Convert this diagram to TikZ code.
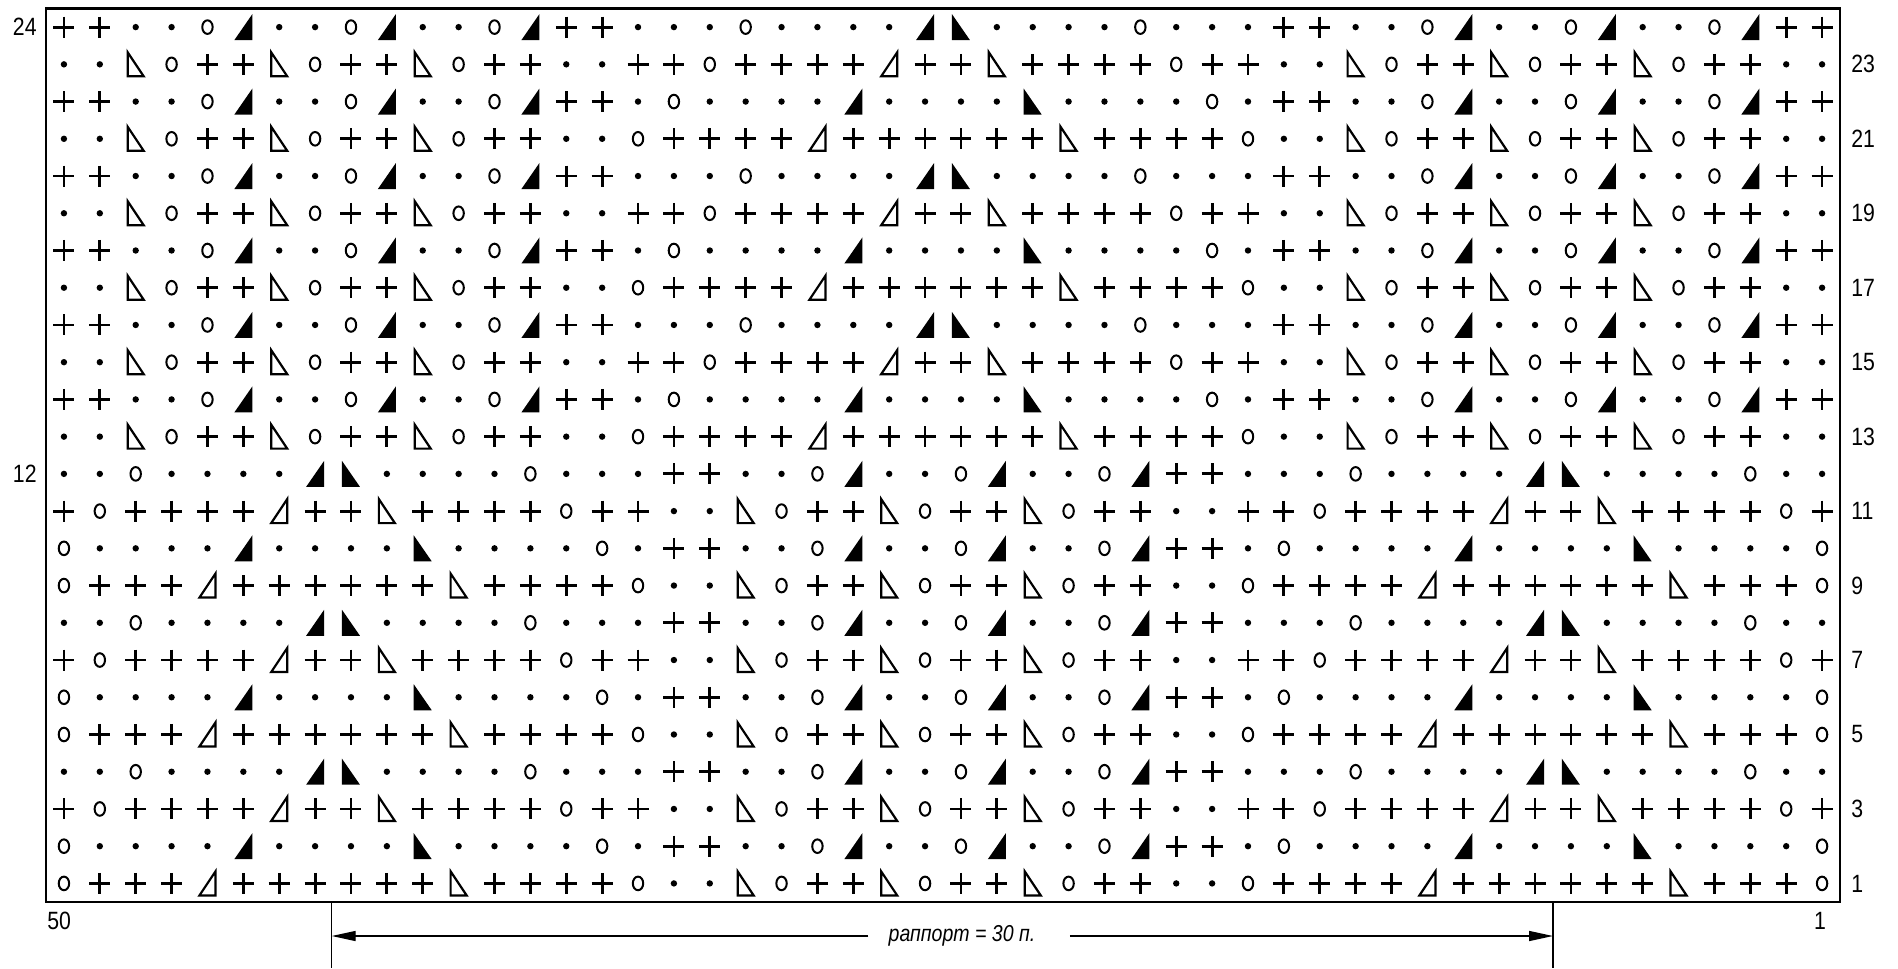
\documentclass[tikz,border=0pt]{standalone}
\usepackage{fontspec}
\setmainfont{Liberation Sans}[FakeStretch=0.85]
\usetikzlibrary{arrows.meta}
% symbol patterns, left (col 50) to right (col 1)
\expandafter\def\csname chartrowU0\endcsname{K,K,P,P,O,R,P,P,O,R,P,P,O,R,K,K,P,P,P,O,P,P,P,P,R,L,P,P,P,P,O,P,P,P,K,K,P,P,O,R,P,P,O,R,P,P,O,R,K,K}
\expandafter\def\csname chartrowU3\endcsname{P,P,l,O,K,K,l,O,K,K,l,O,K,K,P,P,K,K,O,K,K,K,K,r,K,K,l,K,K,K,K,O,K,K,P,P,l,O,K,K,l,O,K,K,l,O,K,K,P,P}
\expandafter\def\csname chartrowU2\endcsname{K,K,P,P,O,R,P,P,O,R,P,P,O,R,K,K,P,O,P,P,P,P,R,P,P,P,P,L,P,P,P,P,O,P,K,K,P,P,O,R,P,P,O,R,P,P,O,R,K,K}
\expandafter\def\csname chartrowU1\endcsname{P,P,l,O,K,K,l,O,K,K,l,O,K,K,P,P,O,K,K,K,K,r,K,K,K,K,K,K,l,K,K,K,K,O,P,P,l,O,K,K,l,O,K,K,l,O,K,K,P,P}
\expandafter\def\csname chartrowD0\endcsname{P,P,O,P,P,P,P,R,L,P,P,P,P,O,P,P,P,K,K,P,P,O,R,P,P,O,R,P,P,O,R,K,K,P,P,P,O,P,P,P,P,R,L,P,P,P,P,O,P,P}
\expandafter\def\csname chartrowD3\endcsname{K,O,K,K,K,K,r,K,K,l,K,K,K,K,O,K,K,P,P,l,O,K,K,l,O,K,K,l,O,K,K,P,P,K,K,O,K,K,K,K,r,K,K,l,K,K,K,K,O,K}
\expandafter\def\csname chartrowD2\endcsname{O,P,P,P,P,R,P,P,P,P,L,P,P,P,P,O,P,K,K,P,P,O,R,P,P,O,R,P,P,O,R,K,K,P,O,P,P,P,P,R,P,P,P,P,L,P,P,P,P,O}
\expandafter\def\csname chartrowD1\endcsname{O,K,K,K,r,K,K,K,K,K,K,l,K,K,K,K,O,P,P,l,O,K,K,l,O,K,K,l,O,K,K,P,P,O,K,K,K,K,r,K,K,K,K,K,K,l,K,K,K,O}
% symbols (local px coordinates, y down)
\def\chartsymK{\draw[knitline] (-10.5,0) -- (10.5,0) (0,-10.5) -- (0,10.5);}
\def\chartsymP{\fill (0,0) circle[radius=1.6pt];}
\def\chartsymO{\draw[line width=1pt] (0,0) ellipse[x radius=2.6pt, y radius=3.4pt];}
\def\chartsymR{\fill (-9,13) -- (9,13) -- (9,-13) -- cycle;}
\def\chartsymL{\fill (-9,13) -- (9,13) -- (-9,-13) -- cycle;}
\def\chartsymr{\draw[triline] (-8,12) -- (8,12) -- (8,-12) -- cycle;}
\def\chartsyml{\draw[triline] (-8,12) -- (8,12) -- (-8,-12) -- cycle;}
\begin{document}
\begin{tikzpicture}[x=0.5pt,y=-0.5pt,
  lab/.style={font=\fontsize{12.5}{14}\selectfont, inner sep=0pt},
  knitline/.style={line width=1.4pt},
  triline/.style={line width=1.1pt, line join=miter},
  thinline/.style={line width=0.6pt},
  arr/.style={line width=0.7pt, -{Triangle[length=12pt,width=5pt]}}]
\useasboundingbox (0,0) rectangle (1898,968);
\fill[white] (0,0) rectangle (1898,968);
% frame
\draw[line width=1.3pt] (46,8.5) rectangle (1840,902);
% symbols
\foreach \r in {1,...,24}{
  \pgfmathtruncatemacro\m{mod(\r,4)}
  \ifnum\r>12 \def\half{U}\else\def\half{D}\fi
  \expandafter\let\expandafter\cur\csname chartrow\half\m\endcsname
  \pgfmathsetmacro\yy{8.5+(24.5-\r)*37.23}
  \foreach \s [count=\i] in \cur {
    \pgfmathsetmacro\xx{46+(\i-0.5)*35.88}
    \begin{scope}[shift={(\xx,\yy)}]\csname chartsym\s\endcsname\end{scope}
  }
}
% row labels
\node[lab, anchor=east] (lab24) at (37,27.1) {24};
\node[lab, anchor=east] (lab12) at (37,473.9) {12};
\foreach \r in {1,3,...,23}{
  \pgfmathsetmacro\yy{8.5+(24.5-\r)*37.23}
  \node[lab, anchor=west] (labr\r) at (1851,\yy) {\r};
}
% column labels
\node[lab, anchor=west] (col50) at (47,921) {50};
\node[lab] (col1) at (1820,921) {1};
% repeat
\coordinate (repLtop) at (331.7,902);
\coordinate (repLbot) at (331.7,968);
\coordinate (repRtop) at (1553,902);
\coordinate (repRbot) at (1553,968);
\coordinate (repLa) at (331.7,936);
\coordinate (repRa) at (1553,936);
\draw[thinline] (repLtop) -- (repLbot);
\draw[thinline] (repRtop) -- (repRbot);
\node[inner sep=0pt, font=\fontsize{11.5}{13}\selectfont\itshape] (rap) at (962,936) {раппорт = 30 п.};
\draw[arr, shorten <=10pt] (rap.west) -- (repLa);
\draw[arr, shorten <=17pt] (rap.east) -- (repRa);
\end{tikzpicture}
\end{document}
